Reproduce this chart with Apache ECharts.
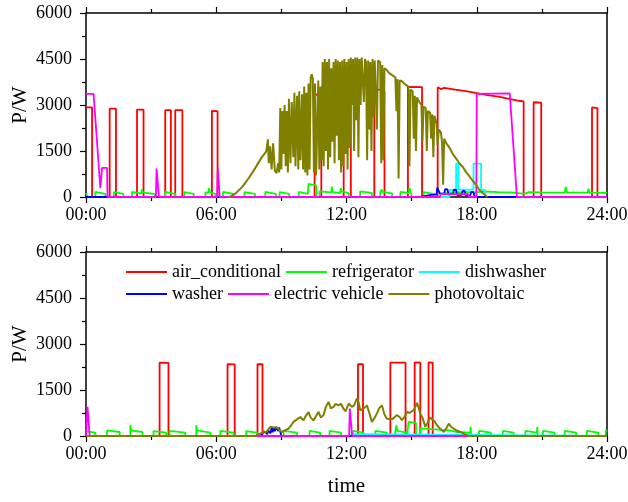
<!DOCTYPE html>
<html>
<head>
<meta charset="utf-8">
<script src="https://cdn.jsdelivr.net/npm/echarts@6/dist/echarts.min.js"></script>
<style>html,body{margin:0;padding:0;background:#fff}#c{width:628px;height:502px}</style>
</head>
<body>
<div id="c"></div>
<script>
// ---------- data ----------
const seriesNames = ['air_conditional','refrigerator','dishwasher','washer','electric vehicle','photovoltaic'];
const tickLabels = ['00:00','06:00','12:00','18:00','24:00'];
const yTickValues = [0,1500,3000,4500,6000];
const yAxisTitle = 'P/W';
const xAxisTitle = 'time';

// top panel  [hour, W]
const topAir = [[0,2920],[0.28,2920],[0.28,0],[1.09,0],[1.09,2880],[1.38,2880],[1.38,0],[2.35,0],[2.35,2850],[2.65,2850],[2.65,0],[3.65,0],[3.65,2830],[3.91,2830],[3.91,0],[4.11,0],[4.11,2830],[4.44,2830],[4.44,0],[5.8,0],[5.8,2810],[6.06,2800],[6.06,0],[10.53,0],[10.53,3360],[10.65,3330],[10.84,3200],[10.84,0],[11.87,0],[11.87,3450],[12.2,3440],[12.2,0],[13.28,0],[13.28,3550],[13.75,3440],[13.75,0],[14.83,0],[14.83,3590],[15.48,3580],[15.48,0],[16.2,0],[16.2,3580],[16.35,3520],[16.5,3560],[17.0,3500],[17.5,3450],[18.0,3390],[18.5,3320],[19.0,3270],[19.55,3195],[20.0,3130],[20.16,3117],[20.16,0],[20.62,0],[20.62,3090],[20.97,3080],[20.97,0],[23.31,0],[23.31,2920],[23.56,2900],[23.56,0],[24,0]];
const topFridge = [[0,130],[0.08,120],[0.08,0],[0.43,0],[0.43,165],[0.89,100],[0.89,0],[1.28,0],[1.28,160],[1.72,100],[1.72,0],[2.12,0],[2.12,170],[2.55,110],[2.58,250],[2.62,150],[3.17,95],[3.17,0],[3.65,0],[3.65,165],[4.12,100],[4.12,0],[4.53,0],[4.53,160],[4.96,100],[4.96,0],[5.5,0],[5.5,150],[5.63,140],[5.66,290],[5.7,160],[5.96,100],[5.96,0],[6.31,0],[6.31,165],[6.8,100],[6.8,0],[7.3,0],[7.3,160],[7.78,100],[7.78,0],[8.26,0],[8.26,165],[8.75,100],[8.75,0],[8.92,0],[8.92,160],[9.36,100],[9.36,0],[9.8,0],[9.8,165],[10.22,100],[10.25,430],[10.6,380],[10.62,0],[10.76,0],[10.76,185],[11.3,150],[11.32,340],[11.36,160],[11.71,130],[11.73,290],[11.78,180],[12.1,130],[12.1,0],[12.63,0],[12.63,185],[13.17,130],[13.17,0],[13.56,0],[13.56,160],[13.62,240],[13.66,170],[14.1,120],[14.1,0],[14.48,0],[14.48,165],[14.88,130],[14.9,290],[14.95,160],[15.02,130],[15.02,0],[15.55,0],[15.55,160],[16.0,100],[16.5,120],[17.0,150],[17.5,160],[18.0,150],[18.3,180],[19.0,160],[19.6,150],[19.65,90],[20.2,100],[20.4,160],[21.0,150],[22.05,140],[22.1,330],[22.15,150],[23.1,140],[23.15,270],[23.2,140],[24,130]];
const topDish = [[0,0],[16.75,0],[16.75,230],[17.05,230],[17.05,1090],[17.15,1090],[17.15,240],[17.85,240],[17.85,1090],[18.2,1090],[18.2,230],[18.38,230],[18.38,0],[24,0]];
const topWasher = [[0,0],[15.4,0],[15.45,60],[15.9,70],[16.15,80],[16.18,310],[16.25,300],[16.3,120],[16.5,110],[16.55,260],[16.65,250],[16.7,90],[16.9,100],[16.95,240],[17.05,230],[17.1,60],[17.3,70],[17.35,200],[17.45,190],[17.5,50],[17.7,60],[17.75,170],[17.85,160],[17.9,0],[24,0]];
const topEV = [[0,3360],[0.35,3360],[0.66,290],[0.74,950],[0.97,950],[0.99,0],[3.22,0],[3.25,930],[3.33,930],[3.36,0],[6.04,0],[6.07,930],[6.13,900],[6.16,0],[16.3,0],[16.35,100],[17.6,90],[17.65,0],[17.98,0],[18.0,3360],[19.52,3380],[19.85,0],[24,0]];
const topPV = [[6.6,0],[6.9,120],[7.2,330],[7.5,620],[7.8,950],[8.1,1300],[8.3,1480],[8.38,1880],[8.42,1100],[8.48,1650],[8.55,900],[8.62,1750],[8.7,850],[8.78,780],[8.85,1100],[8.9,800],[8.95,2900],[9.0,900],[9.05,2800],[9.1,1400],[9.15,3000],[9.2,1000],[9.25,2800],[9.3,800],[9.35,3200],[9.42,1100],[9.48,3100],[9.55,1300],[9.6,3400],[9.65,1000],[9.72,3300],[9.78,900],[9.82,3450],[9.88,1200],[9.95,3350],[10.0,900],[10.05,3600],[10.1,800],[10.15,3400],[10.2,700],[10.25,3700],[10.3,900],[10.35,3900],[10.4,4000],[10.45,3850],[10.5,800],[10.55,3700],[10.6,700],[10.65,2200],[10.7,3800],[10.75,900],[10.8,3600],[10.85,1200],[10.9,4400],[10.95,1000],[11.0,4500],[11.05,1500],[11.1,4400],[11.15,900],[11.2,4500],[11.25,1300],[11.3,4200],[11.35,1800],[11.4,4400],[11.45,1100],[11.5,4500],[11.55,2000],[11.6,4450],[11.65,1200],[11.7,4400],[11.75,800],[11.8,4450],[11.85,1000],[11.9,4500],[11.95,1400],[12.0,4400],[12.05,900],[12.1,4500],[12.15,1600],[12.2,4550],[12.25,3000],[12.3,4500],[12.35,1500],[12.4,4550],[12.45,2500],[12.5,4550],[12.55,1300],[12.6,4500],[12.65,3000],[12.7,4550],[12.75,4500],[12.8,3100],[12.85,4500],[12.9,4400],[12.95,1200],[13.0,4450],[13.05,2200],[13.1,4400],[13.15,1500],[13.2,4500],[13.25,2600],[13.3,4450],[13.4,2200],[13.45,4450],[13.55,4400],[13.6,1100],[13.65,4300],[13.7,1200],[13.75,4200],[13.85,4150],[13.95,4050],[14.05,4000],[14.15,3950],[14.25,3900],[14.3,2800],[14.35,3850],[14.4,600],[14.45,3800],[14.55,3780],[14.65,3700],[14.75,3650],[14.85,3600],[14.9,1000],[14.95,3500],[15.05,3450],[15.1,1900],[15.15,3300],[15.2,1500],[15.25,3250],[15.35,3100],[15.45,3000],[15.5,1800],[15.55,2950],[15.65,2900],[15.7,1500],[15.75,2800],[15.85,2750],[15.9,1900],[15.95,2700],[16.0,1300],[16.05,2650],[16.15,2400],[16.2,1700],[16.25,2200],[16.35,2100],[16.4,1800],[16.45,400],[16.5,1900],[16.6,1750],[16.75,1600],[16.9,1400],[17.05,1250],[17.2,1100],[17.36,980],[17.5,820],[17.67,670],[17.8,540],[17.97,400],[18.1,250],[18.28,120],[18.5,0]];

// bottom panel  [hour, W]
const botAir = [[0,0],[3.39,0],[3.39,2390],[3.8,2385],[3.8,0],[6.52,0],[6.52,2340],[6.85,2335],[6.85,0],[7.9,0],[7.9,2345],[8.13,2340],[8.13,0],[12.53,0],[12.53,2345],[12.76,2340],[12.76,0],[14.02,0],[14.02,2390],[14.72,2390],[14.72,0],[15.14,0],[15.14,2400],[15.4,2395],[15.4,0],[15.78,0],[15.78,2400],[15.97,2395],[15.97,0],[24,0]];
const botFridge = [[0,150],[0.43,110],[0.43,0],[0.97,0],[0.97,185],[1.55,130],[1.55,0],[2.04,0],[2.04,350],[2.08,185],[2.6,130],[2.6,0],[3.11,0],[3.11,160],[3.7,110],[3.7,0],[3.85,0],[3.85,165],[4.57,110],[4.57,0],[5.08,0],[5.08,350],[5.12,185],[5.72,110],[5.72,0],[6.19,0],[6.19,165],[6.8,110],[6.8,0],[7.38,0],[7.38,160],[7.88,110],[7.88,0],[9.1,0],[9.1,165],[9.72,110],[9.72,0],[10.3,0],[10.3,165],[10.79,110],[10.79,0],[11.22,0],[11.22,165],[11.75,110],[11.75,0],[12.3,0],[12.3,165],[12.79,110],[12.79,0],[13.33,0],[13.33,165],[13.86,110],[13.86,0],[14.25,0],[14.25,160],[14.3,350],[14.34,170],[14.79,110],[14.79,0],[14.86,0],[14.86,460],[15.2,430],[15.2,0],[15.4,0],[15.4,250],[16.4,200],[16.75,185],[17.1,130],[17.7,110],[17.72,300],[17.74,0],[18.1,0],[18.1,165],[18.65,110],[18.65,0],[19.2,0],[19.2,165],[19.7,110],[19.7,0],[20.24,0],[20.24,165],[20.77,110],[20.79,300],[20.81,0],[21.05,0],[21.05,165],[21.58,110],[21.58,0],[22.05,0],[22.05,165],[22.58,110],[22.58,0],[23.07,0],[23.07,165],[23.6,110],[23.6,0],[23.93,0],[23.95,200],[24,150]];
const botDish = [[0,0],[12.15,0],[12.18,60],[12.28,60],[12.3,0],[24,0]];
const botWasher = [[0,0],[7.85,0],[7.9,40],[7.95,10],[8.0,70],[8.05,30],[8.1,90],[8.15,110],[8.2,50],[8.25,130],[8.3,160],[8.35,60],[8.4,180],[8.45,200],[8.5,90],[8.55,260],[8.6,120],[8.65,290],[8.7,150],[8.75,300],[8.8,250],[8.85,160],[8.9,280],[8.95,290],[9.0,0],[24,0]];
const botEV = [[0,0],[0.05,0],[0.07,950],[0.15,930],[0.17,0],[12.12,0],[12.15,900],[12.23,890],[12.26,0],[24,0]];
const botPV = [[0,0],[7.8,0],[7.95,60],[8.1,100],[8.2,150],[8.3,120],[8.4,220],[8.5,300],[8.56,350],[8.65,280],[8.79,275],[8.9,200],[9.02,130],[9.15,180],[9.33,240],[9.45,350],[9.56,460],[9.65,400],[9.75,560],[9.87,620],[10.02,510],[10.12,650],[10.25,780],[10.35,600],[10.48,510],[10.6,650],[10.71,790],[10.82,600],[10.94,680],[11.05,950],[11.17,1110],[11.28,900],[11.4,950],[11.5,1050],[11.63,1000],[11.75,1050],[11.86,890],[11.96,800],[12.1,1060],[12.17,1080],[12.25,950],[12.35,1000],[12.48,1230],[12.56,1100],[12.63,840],[12.7,820],[12.8,900],[12.94,1000],[13.05,760],[13.17,460],[13.3,600],[13.4,730],[13.5,900],[13.55,940],[13.63,1000],[13.75,700],[13.86,560],[13.95,620],[14.1,550],[14.2,600],[14.32,680],[14.45,620],[14.55,520],[14.7,650],[14.79,790],[14.9,750],[15.0,800],[15.1,840],[15.2,1000],[15.25,1080],[15.33,900],[15.4,730],[15.5,600],[15.63,300],[15.75,450],[15.85,600],[15.94,620],[16.05,480],[16.17,350],[16.3,250],[16.48,130],[16.6,250],[16.71,400],[16.82,300],[16.94,240],[17.1,170],[17.25,130],[17.45,60],[17.63,0],[24,0]];

// ---------- styling ----------
const colors = ['#ff0000','#00ff00','#00ffff','#0000ff','#ff00ff','#808000'];
const widths = [1.8, 1.8, 1.8, 1.8, 1.8, 2];
const FONT = '"Liberation Serif","Times New Roman",serif';
const topData = [topAir, topFridge, topDish, topWasher, topEV, topPV];
const botData = [botAir, botFridge, botDish, botWasher, botEV, botPV];

const grids = [
  {left: 86, top: 13, width: 521, height: 184, outerBoundsMode: 'none', containLabel: false},
  {left: 86, top: 252, width: 521, height: 184, outerBoundsMode: 'none', containLabel: false}
];
const axLine = {show: true, onZero: false, lineStyle: {color: '#000', width: 1.5}};
const tickStyle = {color: '#000', width: 1.2};

function xAxes(gi, withName) {
  return [
    {type: 'value', gridIndex: gi, min: 0, max: 24, interval: 6, position: 'bottom',
     axisLine: axLine, splitLine: {show: false},
     axisTick: {show: true, inside: false, length: 6, lineStyle: tickStyle},
     minorTick: {show: true, splitNumber: 2, length: 4, lineStyle: tickStyle},
     axisLabel: {fontFamily: FONT, fontSize: 18, color: '#000', margin: 9,
                 formatter: v => tickLabels[Math.round(v / 6)]},
     name: withName ? xAxisTitle : '', nameLocation: 'middle', nameGap: 40,
     nameTextStyle: {fontFamily: FONT, fontSize: 21, color: '#000'}},
    {type: 'value', gridIndex: gi, min: 0, max: 24, interval: 6, position: 'top',
     axisLine: axLine, splitLine: {show: false},
     axisTick: {show: true, inside: false, length: 6, lineStyle: tickStyle},
     minorTick: {show: true, splitNumber: 2, length: 4, lineStyle: tickStyle},
     axisLabel: {show: false}}
  ];
}
function yAxes(gi) {
  return [
    {type: 'value', gridIndex: gi, min: 0, max: 6000, interval: 1500, position: 'left',
     axisLine: axLine, splitLine: {show: false},
     axisTick: {show: true, inside: false, length: 6, lineStyle: tickStyle},
     minorTick: {show: true, splitNumber: 2, length: 4, lineStyle: tickStyle},
     axisLabel: {fontFamily: FONT, fontSize: 18, color: '#000', margin: 14,
                 formatter: v => yTickValues.includes(v) ? String(v) : ''}},
    {type: 'value', gridIndex: gi, min: 0, max: 6000, interval: 1500, position: 'right',
     axisLine: axLine, splitLine: {show: false}, axisTick: {show: false}, axisLabel: {show: false}}
  ];
}

const series = [];
[topData, botData].forEach((set, gi) => {
  set.forEach((d, i) => {
    series.push({
      name: seriesNames[i], type: 'line', xAxisIndex: gi * 2, yAxisIndex: gi * 2,
      data: d, showSymbol: false, symbol: 'none', animation: false,
      lineStyle: {color: colors[i], width: widths[i]}, itemStyle: {color: colors[i]},
      z: 2 + i
    });
  });
});

const legendBase = {
  left: 126, padding: 0, itemWidth: 41, itemHeight: 2, itemGap: 5, icon: 'rect', selectedMode: false,
  textStyle: {fontFamily: FONT, fontSize: 18, color: '#000'}
};

// rotated y-axis titles, one per panel (centred on each grid's height)
const yTitle = (cy) => ({
  type: 'text', x: 20, y: cy, rotation: Math.PI / 2,
  style: {text: yAxisTitle, fill: '#000', font: '21px "Liberation Serif", serif',
          align: 'center', verticalAlign: 'middle'}
});

const option = {
  animation: false,
  backgroundColor: '#fff',
  color: colors,
  grid: grids,
  xAxis: [...xAxes(0, false), ...xAxes(1, true)],
  yAxis: [...yAxes(0), ...yAxes(1)],
  legend: [
    Object.assign({}, legendBase, {top: 263, data: seriesNames.slice(0, 3)}),
    Object.assign({}, legendBase, {top: 285, data: seriesNames.slice(3)})
  ],
  graphic: [yTitle(13 + 92), yTitle(252 + 92)],
  series: series
};

const chart = echarts.init(document.getElementById('c'), null, {renderer: 'canvas'});
chart.setOption(option);
</script>
</body>
</html>
